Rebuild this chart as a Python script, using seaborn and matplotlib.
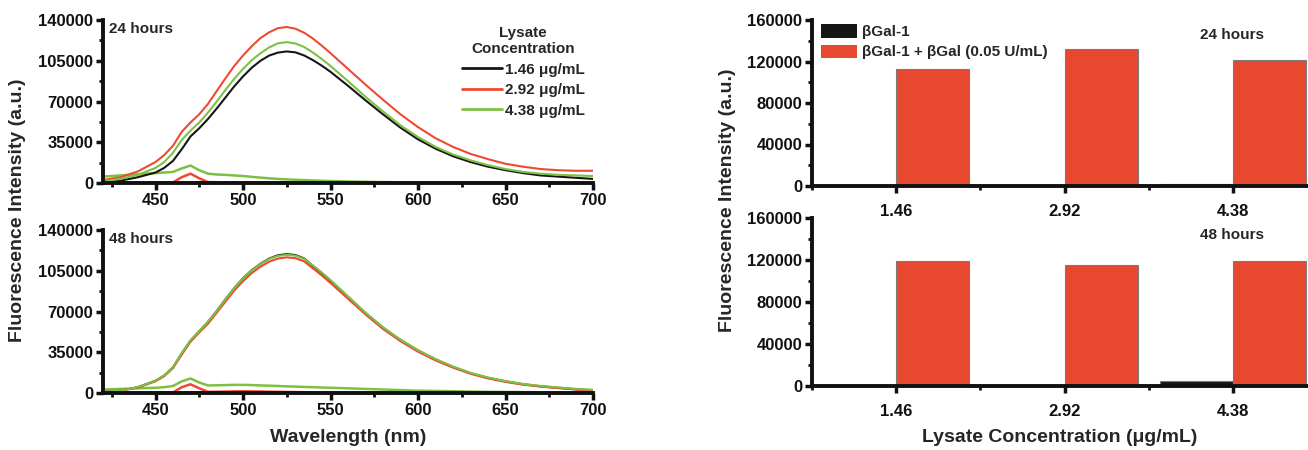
import numpy as np
import pandas as pd
import matplotlib
matplotlib.use("Agg")
import matplotlib.pyplot as plt
from matplotlib.ticker import MultipleLocator, FixedLocator
import seaborn as sns

# ---------------- data ----------------
wavelength = ([420, 430, 440, 450]
              + [455, 460, 465, 470, 475, 480, 485, 490, 495, 500, 505, 510, 515, 520, 525,
                 530, 535, 540, 545, 550]
              + [560, 570, 580, 590, 600, 610, 620, 630, 640, 650, 660, 670, 680, 690, 700])

# 24 hours, with enzyme (large curves)
h24_146 = ([500, 2000, 5000, 9000]
           + [13000, 19000, 29000, 40000, 47000, 55000, 64000, 73500, 83000, 91500, 99000,
              105000, 109500, 112000, 113000, 112200, 109500, 105500, 100800, 95500]
           + [83500, 71000, 59000, 47500, 37500, 29500, 23000, 18000, 14000, 11000, 8500,
              6500, 5500, 4500, 3500])
h24_292 = ([2500, 5000, 10000, 18000]
           + [24000, 32000, 44000, 52000, 59000, 68000, 79000, 90000, 100500, 109500, 117500,
              124500, 129500, 133000, 134000, 132500, 129000, 124000, 118000, 111500]
           + [98000, 84500, 71500, 59000, 48000, 38500, 31000, 25000, 20500, 16500, 14000,
              12000, 11000, 10500, 10500])
h24_438 = ([1500, 3500, 7000, 13000]
           + [18000, 26000, 37000, 45000, 52000, 60500, 70000, 80000, 89500, 98000, 105500,
              111500, 116500, 120000, 121000, 119800, 116800, 112000, 106500, 100500]
           + [87500, 74000, 61500, 49500, 39500, 31000, 24500, 19500, 15300, 12000, 9500,
              8000, 7000, 6500, 6000])
# 24 hours, probe only (small curves)
h24_146_b = ([300, 300, 300, 300]
             + [300, 300, 300, 400, 300, 300, 300, 300, 300, 300, 300, 300, 300, 300, 300,
                200, 200, 200, 200, 200]
             + [200, 100, 100, 100, 100, 100, 100, 0, 0, 0, 0, 0, 0, 0, 0])
h24_292_b = ([0, 0, 0, 0]
             + [0, 500, 5000, 8000, 4000, 800, 700, 600, 550, 500, 500, 450, 400, 400, 400,
                350, 300, 300, 300, 300]
             + [200, 200, 100, 100, 100, 0, 0, 0, 0, 0, 0, 0, 0, 0, 0])
h24_438_b = ([5500, 6500, 7500, 8500]
             + [9000, 9500, 12500, 15000, 11000, 8000, 7300, 7000, 6500, 6000, 5300, 4600,
                4000, 3500, 3100, 2800, 2500, 2200, 1900, 1700]
             + [1300, 1000, 800, 600, 400, 300, 200, 100, 100, 0, 0, 0, 0, 0, 0])

# 48 hours, with enzyme
h48_146 = ([800, 2000, 5000, 10500]
           + [15000, 22000, 34000, 45000, 53000, 61000, 70500, 80500, 90000, 98500, 105500,
              111000, 115500, 118300, 119300, 118500, 115500, 109000, 103000, 96500]
           + [82500, 68500, 56000, 45500, 36500, 28800, 22300, 17000, 13000, 10000, 7500,
              5800, 4500, 3200, 2200])
h48_292 = ([700, 1800, 4800, 10000]
           + [14500, 21500, 33000, 44000, 52000, 59500, 69000, 78500, 88000, 96000, 103000,
              108500, 112800, 115500, 116500, 115800, 113000, 107000, 101000, 94500]
           + [81000, 67500, 55000, 44500, 35500, 28000, 21800, 16500, 12500, 9500, 7200,
              5500, 4200, 3000, 2000])
h48_438 = ([900, 2100, 5100, 10600]
           + [15200, 22200, 34200, 45200, 53200, 61200, 70500, 80500, 90000, 98300, 105300,
              110800, 115200, 117800, 118700, 118000, 115200, 109500, 103500, 97000]
           + [83000, 69000, 56500, 45800, 36800, 29200, 22800, 17300, 13300, 10300, 7800,
              6100, 4800, 3600, 2800])
# 48 hours, probe only
h48_146_b = ([300, 300, 300, 300]
             + [300, 300, 300, 500, 400, 300, 350, 400, 450, 500, 500, 500, 450, 400, 350,
                300, 300, 250, 200, 200]
             + [200, 200, 100, 100, 100, 100, 0, 0, 0, 0, 0, 0, 0, 0, 0])
h48_292_b = ([0, 0, 0, 0]
             + [0, 500, 5000, 7500, 4000, 1000, 1100, 1200, 1400, 1500, 1400, 1300, 1100,
                1000, 900, 800, 700, 600, 550, 500]
             + [400, 300, 300, 200, 200, 100, 100, 0, 0, 0, 0, 0, 0, 0, 0])
h48_438_b = ([3000, 3500, 4000, 4500]
             + [5000, 6000, 10000, 12500, 9000, 6500, 6600, 6800, 7000, 7000, 6800, 6500,
                6300, 6000, 5700, 5500, 5200, 5000, 4700, 4500]
             + [4000, 3500, 3000, 2500, 2000, 1800, 1500, 1200, 1000, 900, 800, 600, 500,
                400, 300])

conc_labels = ["1.46 μg/mL", "2.92 μg/mL", "4.38 μg/mL"]
conc_ticks = ["1.46", "2.92", "4.38"]
bar_series = ["βGal-1", "βGal-1 + βGal (0.05 U/mL)"]
bars24_probe = [0, 0, 2000]
bars24_enz = [113000, 132500, 121000]
bars48_probe = [0, 0, 4500]
bars48_enz = [119000, 115500, 119000]

# ---------------- style ----------------
sns.set_theme(style="ticks")
plt.rcParams["font.family"] = ["Liberation Sans", "DejaVu Sans"]
plt.rcParams["font.weight"] = "bold"
plt.rcParams["axes.labelweight"] = "bold"

c_black = "#161616"
c_red = "#ee4a33"
c_green = "#7cc144"
bar_red = "#e8482e"
line_pal = {conc_labels[0]: c_black, conc_labels[1]: c_red, conc_labels[2]: c_green}

W, H = 1308, 450
fig = plt.figure(figsize=(W / 100, H / 100), dpi=100)


def rect(x0, y0, x1, y1):
    return [x0 / W, 1 - y1 / H, (x1 - x0) / W, (y1 - y0) / H]


ax_l1 = fig.add_axes(rect(103, 20, 593, 183))
ax_l2 = fig.add_axes(rect(103, 230, 593, 393))
ax_r1 = fig.add_axes(rect(812, 20, 1307, 186))
ax_r2 = fig.add_axes(rect(812, 218, 1307, 386))

TICK_FS = 12


def style_axis(ax):
    sns.despine(ax=ax)
    for s in ("left", "bottom"):
        ax.spines[s].set_linewidth(2.8)
        ax.spines[s].set_color("#111111")
    ax.tick_params(which="major", direction="out", length=5, width=2.5, colors="#111111",
                   labelsize=TICK_FS, pad=2)
    ax.tick_params(which="minor", direction="out", length=3, width=2.0, colors="#111111")
    for lab in ax.get_xticklabels() + ax.get_yticklabels():
        lab.set_fontweight("bold")
    ax.set_xlabel("")
    ax.set_ylabel("")


def long_df(series):
    rows = []
    for lab, vals in zip(conc_labels, series):
        for w, v in zip(wavelength, vals):
            rows.append({"wl": w, "val": v, "conc": lab})
    return pd.DataFrame(rows)


def spectra(ax, big, small, title, legend):
    sns.lineplot(data=long_df(small), x="wl", y="val", hue="conc", palette=line_pal,
                 ax=ax, legend=False, linewidth=1.8)
    sns.lineplot(data=long_df(big), x="wl", y="val", hue="conc", palette=line_pal,
                 ax=ax, legend=legend, linewidth=1.5)
    ax.set_xlim(420, 700)
    ax.set_ylim(0, 140000)
    ax.xaxis.set_major_locator(MultipleLocator(50))
    ax.xaxis.set_minor_locator(MultipleLocator(25))
    ax.yaxis.set_major_locator(MultipleLocator(35000))
    ax.yaxis.set_minor_locator(MultipleLocator(17500))
    ax.set_xticks([450, 500, 550, 600, 650, 700])
    ax.text(0.012, 0.985, title, transform=ax.transAxes, ha="left", va="top",
            fontsize=11, fontweight="bold")
    style_axis(ax)
    if legend:
        leg = ax.legend(title="Lysate\nConcentration", loc="upper right", frameon=False,
                        fontsize=11, title_fontsize=11, handlelength=2.6, handletextpad=0.2,
                        labelspacing=0.42, borderaxespad=0.0, bbox_to_anchor=(0.995, 1.0))
        leg.get_title().set_fontweight("bold")
        leg.get_title().set_multialignment("center")
        for t in leg.get_texts():
            t.set_fontweight("bold")
        for ln in leg.get_lines():
            ln.set_linewidth(2.0)


spectra(ax_l1, [h24_146, h24_292, h24_438], [h24_146_b, h24_292_b, h24_438_b], "24 hours", True)
spectra(ax_l2, [h48_146, h48_292, h48_438], [h48_146_b, h48_292_b, h48_438_b], "48 hours", False)


def bar_df(probe, enz):
    rows = []
    for t, p, e in zip(conc_ticks, probe, enz):
        rows.append({"conc": t, "val": p, "series": bar_series[0]})
        rows.append({"conc": t, "val": e, "series": bar_series[1]})
    return pd.DataFrame(rows)


def bars(ax, probe, enz, title, ty, legend):
    sns.barplot(data=bar_df(probe, enz), x="conc", y="val", hue="series",
                palette={bar_series[0]: c_black, bar_series[1]: bar_red}, saturation=1,
                width=0.87, ax=ax, edgecolor="#7a7a7a", linewidth=0.8, legend=legend)
    ax.set_xlim(-0.5, 2.44)
    ax.set_ylim(0, 160000)
    ax.yaxis.set_major_locator(MultipleLocator(40000))
    ax.yaxis.set_minor_locator(MultipleLocator(20000))
    ax.xaxis.set_minor_locator(FixedLocator([-0.5, 0.5, 1.5]))
    ax.text(0.848, ty, title, transform=ax.transAxes, ha="center", va="top",
            fontsize=11, fontweight="bold")
    style_axis(ax)
    ax.tick_params(axis="x", which="major", pad=8)
    if legend:
        leg = ax.legend(loc="upper left", frameon=False, fontsize=11,
                        handlelength=2.4, handleheight=0.95, handletextpad=0.3,
                        labelspacing=0.35, borderaxespad=0.0, bbox_to_anchor=(0.005, 1.01))
        for t in leg.get_texts():
            t.set_fontweight("bold")
        for p in leg.get_patches():
            p.set_edgecolor("none")


bars(ax_r1, bars24_probe, bars24_enz, "24 hours", 0.95, True)
bars(ax_r2, bars48_probe, bars48_enz, "48 hours", 0.94, False)

fig.text(18 / W, 1 - 210 / H, "Fluorescence Intensity (a.u.)", rotation=90, ha="center",
         va="center", fontsize=14, fontweight="bold")
fig.text(727 / W, 1 - 200 / H, "Fluorescence Intensity (a.u.)", rotation=90, ha="center",
         va="center", fontsize=14, fontweight="bold")
fig.text(348 / W, 1 - 438 / H, "Wavelength (nm)", ha="center", va="center",
         fontsize=14, fontweight="bold")
fig.text(1060 / W, 1 - 437 / H, "Lysate Concentration (μg/mL)", ha="center", va="center",
         fontsize=14, fontweight="bold")

fig.savefig("out.png", dpi=100)
